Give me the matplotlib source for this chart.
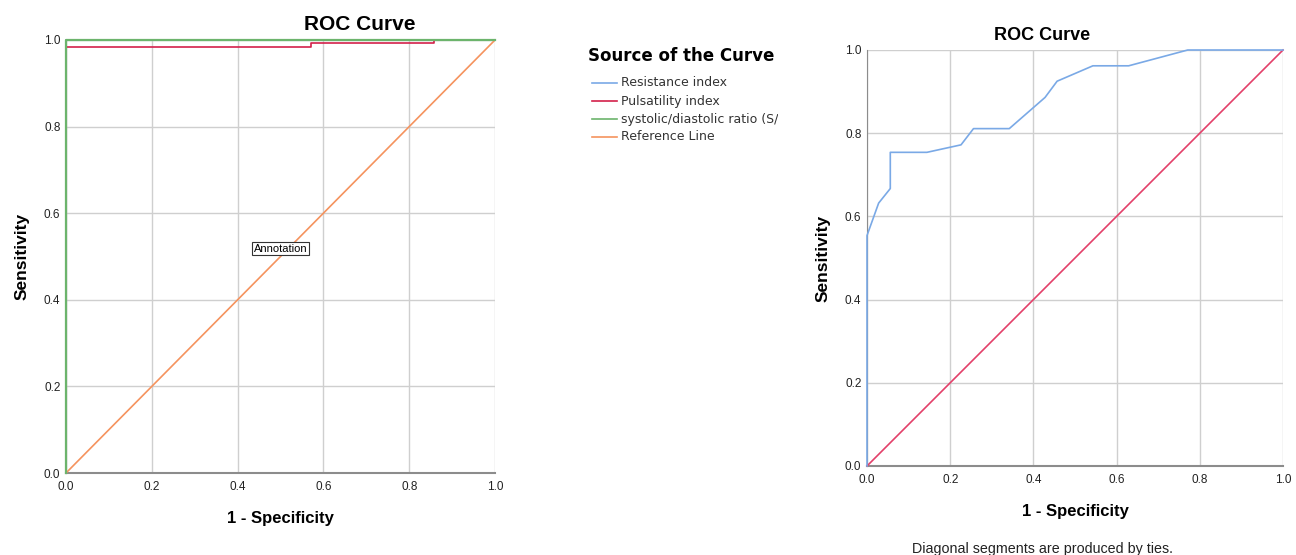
# -*- coding: utf-8 -*-

import matplotlib
matplotlib.use("Agg")
import matplotlib.pyplot as plt
import matplotlib.lines as mlines

plt.rcParams['font.family'] = ['Liberation Sans', 'DejaVu Sans']

# -------------------------------
# Data
# -------------------------------
# left chart : three curves + reference line
ri_x = [0.0, 0.0, 1.0]
ri_y = [0.0, 1.0, 1.0]
pi_x = [0.0, 0.0, 0.571, 0.571, 0.857, 0.857, 1.0]
pi_y = [0.0, 0.984, 0.984, 0.992, 0.992, 1.0, 1.0]
sd_x = [0.0, 0.0, 1.0]
sd_y = [0.0, 1.0, 1.0]
ref_x = [0.0, 1.0]
ref_y = [0.0, 1.0]

# right chart : resistance index only
ri2_x = [0.0, 0.0, 0.028, 0.056, 0.056, 0.144, 0.226, 0.256, 0.342, 0.428,
         0.457, 0.543, 0.629, 0.771, 1.0]
ri2_y = [0.0, 0.554, 0.632, 0.667, 0.754, 0.754, 0.772, 0.811, 0.811, 0.886,
         0.925, 0.962, 0.962, 1.0, 1.0]

legend_names = ['Resistance index', 'Pulsatility index',
                'systolic/diastolic ratio (S/D)', 'Reference Line']
ticks = [0.0, 0.2, 0.4, 0.6, 0.8, 1.0]
tick_labels = ['0.0', '0.2', '0.4', '0.6', '0.8', '1.0']

c_blue = '#7aa9e6'
c_red = '#d3204a'
c_green = '#6cb46c'
c_orange = '#f5935e'
c_red2 = '#e3406a'

W, H = 1296, 555
fig = plt.figure(figsize=(W/100.0, H/100.0), dpi=100)


def px(x0, y0, x1, y1):
    # pixel box (top-left origin) -> figure rect
    return [x0/W, 1-y1/H, (x1-x0)/W, (y1-y0)/H]


def style_axes(ax):
    ax.set_xlim(0, 1)
    ax.set_ylim(0, 1)
    ax.set_xticks(ticks)
    ax.set_yticks(ticks)
    ax.set_xticklabels(tick_labels)
    ax.set_yticklabels(tick_labels)
    ax.tick_params(axis='x', length=0, labelsize=8.5, labelcolor='#222222', pad=6)
    ax.tick_params(axis='y', length=0, labelsize=8.5, labelcolor='#222222', pad=4)
    ax.grid(True, color='#cfcfcf', linewidth=1.0, zorder=0)
    for s in ['top', 'right']:
        ax.spines[s].set_visible(False)
    ax.spines['left'].set_color('#8c8c8c')
    ax.spines['bottom'].set_color('#8c8c8c')
    ax.spines['bottom'].set_linewidth(1.5)
    ax.set_axisbelow(True)


# ------------------------------- Left chart ------------------------------
ax = fig.add_axes(px(66, 40, 495, 473))
style_axes(ax)
ax.plot(ri_x, ri_y, color=c_blue, lw=1.2, zorder=3, clip_on=False)
ax.plot(pi_x, pi_y, color=c_red, lw=1.2, zorder=4, clip_on=False)
ax.plot(sd_x, sd_y, color=c_green, lw=1.6, zorder=5, clip_on=False)
ax.plot(ref_x, ref_y, color=c_orange, lw=1.2, zorder=3, clip_on=False)
ax.text(0.5, 0.518, 'Annotation', ha='center', va='center', fontsize=8,
        bbox=dict(boxstyle='square,pad=0.12', facecolor='white', edgecolor='#333333', lw=0.8),
        zorder=6)
ax.set_xlabel('1 - Specificity', fontsize=12, fontweight='bold', labelpad=13)
ax.set_ylabel('Sensitivity', fontsize=12.5, fontweight='bold', labelpad=10)

fig.text(360/W, 1-24/H, 'ROC Curve', ha='center', va='center', fontsize=15, fontweight='bold')

# ------------------------------- Legend ------------------------------
axl = fig.add_axes(px(585, 40, 778, 150))
axl.axis('off')
axl.set_xlim(585, 778)
axl.set_ylim(150, 40)
axl.text(681, 56, 'Source of the Curve', ha='center', va='center', fontsize=12,
         fontweight='bold', family='DejaVu Sans', clip_on=False)
leg_colors = [c_blue, c_red, c_green, c_orange]
leg_y = [83, 101, 119, 137]
for name, col, yy in zip(legend_names, leg_colors, leg_y):
    axl.add_line(mlines.Line2D([592, 617], [yy, yy], color=col, lw=1.2))
    axl.text(621, yy, name, ha='left', va='center', fontsize=9, family='DejaVu Sans',
             color='#333333', clip_on=True)

# ------------------------------- Right chart ------------------------------
ax2 = fig.add_axes(px(867, 50, 1283, 466))
style_axes(ax2)
ax2.plot(ri2_x, ri2_y, color=c_blue, lw=1.2, zorder=4, clip_on=False)
ax2.plot(ref_x, ref_y, color=c_red2, lw=1.2, zorder=3, clip_on=False)
ax2.set_xlabel('1 - Specificity', fontsize=12, fontweight='bold', labelpad=13)
ax2.set_ylabel('Sensitivity', fontsize=12.5, fontweight='bold', labelpad=10)

fig.text(1042/W, 1-36/H, 'ROC Curve', ha='center', va='center', fontsize=13, fontweight='bold')
fig.text(1042/W, 1-542/H, 'Diagonal segments are produced by ties.', ha='center', va='top',
         fontsize=10.3, color='#222222')

png = "out.png"
plt.savefig(png, dpi=100)
